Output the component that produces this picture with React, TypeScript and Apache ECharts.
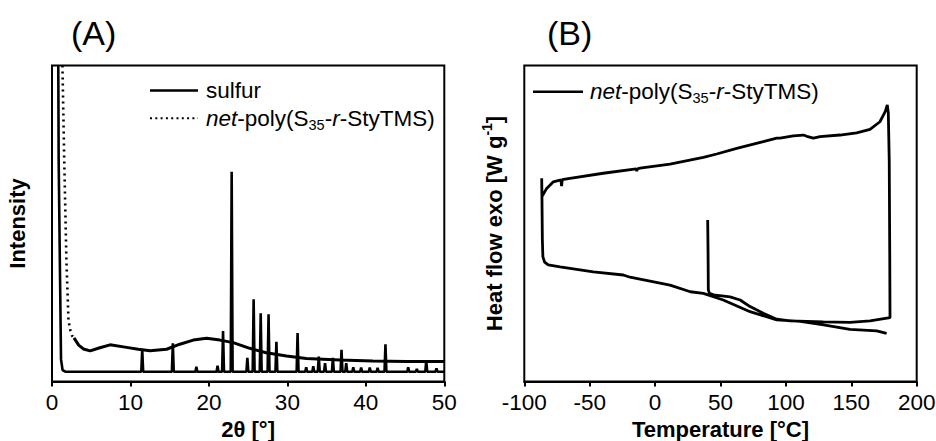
import React, { useEffect, useRef } from "react";
import * as echarts from "echarts";

const FONT = "Liberation Sans";

// ---------- Panel A: XRD ----------
const xrdMin = 0;
const xrdMax = 50;
const xrdInterval = 10;

// steep low-angle drop of the sulfur pattern
const sulfurDropX = [0.8, 0.85, 1.0, 1.15, 1.35, 1.7];
const sulfurDropY = [100, 70, 38, 7, 3.6, 3.1];
const sulfurBaseline = 3.1;
const sulfurPeakPos = [11.5, 15.4, 18.4, 21.1, 21.8, 22.9, 24.9, 25.7, 26.6, 27.6, 28.6, 31.3, 32.4, 33.3, 34.0, 34.8, 35.8, 36.9, 37.5, 38.4, 39.4, 40.5, 41.5, 42.5, 45.4, 46.5, 47.7, 49.0];
const sulfurPeakHeight = [10.2, 12.1, 4.7, 5.0, 16.0, 66.4, 7.5, 26.0, 21.6, 21.3, 12.6, 15.3, 4.5, 4.8, 7.9, 5.8, 7.5, 10.0, 5.8, 4.5, 4.4, 4.4, 4.3, 11.8, 4.5, 4.0, 6.6, 4.2];

// net-poly(S35-r-StyTMS): steep (dotted-looking) part and broad amorphous halo
const polySteepX = [1.33, 1.56, 1.84, 2.1, 2.3, 2.55, 2.8];
const polySteepY = [100, 70, 38, 19.5, 16.5, 14.5, 13.8];
const polyHaloX = [2.8, 3.4, 4.0, 4.87, 6.0, 7.4, 9.5, 11.0, 12.5, 14.6, 16.3, 18.0, 19.7, 21.4, 23.1, 25.2, 27.3, 29.9, 32.4, 36.7, 40.9, 45.2, 50];
const polyHaloY = [13.8, 11.5, 10.3, 9.7, 10.6, 11.6, 10.8, 10.2, 9.7, 10.2, 11.8, 13.1, 13.7, 13.1, 12.3, 10.5, 9.1, 8.1, 7.3, 6.8, 6.5, 6.3, 6.3];

// ---------- Panel B: DSC ----------
const dscMin = -100;
const dscMax = 200;
const dscInterval = 50;
const dscT = [
  40.2, 40.5, 40.7, 41.5, 44.7, 57.3, 65, 72.6, 82.7, 93, 103.1, 128.6, 149, 164.3, 179.6,
  179.4, 179, 178.3, 177.5,
  176, 171.9, 164.3, 154.1, 141.4, 126.1, 121, 116, 113.3, 105.7, 95.5, 93, 82.7, 62.4, 47.1, 36.9, 11.4, -11.5, -13.5, -14, -14.5, -39.6, -65.1, -71, -71.5, -72, -77.8, -82.9, -86.5,
  -86.7, -86.5, -86.2, -85.8, -84.5, -81.7, -72.7, -47.2, -24.3, -19.2, 11.4, 26.9, 36.9, 52.1, 72.6, 93, 111, 128.8, 149, 169.4, 177
];
const dscV = [
  51.1, 40, 29, 27.9, 27.4, 26.8, 25.8, 23.7, 21.6, 19.7, 19.2, 18.9, 18.7, 19.2, 20.2,
  40, 70, 85, 87.5,
  85.5, 82.2, 79.8, 78.7, 78, 77.5, 77, 77.6, 78, 77.7, 77, 77, 75.9, 73.8, 72, 70.9, 68.8, 67.5, 67.3, 66.6, 67.3, 65.9, 64.3, 63.9, 61.8, 63.8, 63.2, 61.1, 58.5,
  64.3, 58, 45, 39.5, 37.8, 36.9, 36.3, 34.7, 33.7, 33, 30.5, 28.4, 27.9, 25.8, 22.1, 19.5, 19, 17.9, 16.5, 16, 15.2
];

const pair = (xs: number[], ys: number[]) => xs.map((x, i) => [x, ys[i]]);

export default function App() {
  const ref = useRef<HTMLDivElement>(null);
  useEffect(() => {
    const chart = echarts.init(ref.current!, null, { renderer: "svg" });

    const sulfurData: number[][] = pair(sulfurDropX, sulfurDropY);
    sulfurPeakPos.forEach((p, i) => {
      sulfurData.push([p - 0.12, sulfurBaseline], [p, sulfurPeakHeight[i]], [p + 0.12, sulfurBaseline]);
    });
    sulfurData.push([xrdMax, sulfurBaseline]);

    const axisCommon = {
      type: "value" as const,
      axisLine: { show: true, lineStyle: { color: "#000", width: 2 } },
      axisTick: { show: true, inside: false, length: 5, lineStyle: { color: "#000", width: 2 } },
      axisLabel: { fontSize: 22.5, color: "#000", fontFamily: FONT, margin: 9 },
      splitLine: { show: false },
      nameLocation: "middle" as const,
      nameGap: 36,
      nameTextStyle: { fontSize: 22, fontWeight: "bold" as const, color: "#000", fontFamily: FONT },
    };
    const yCommon = {
      type: "value" as const,
      min: 0,
      max: 100,
      axisLine: { show: false },
      axisTick: { show: false },
      axisLabel: { show: false },
      splitLine: { show: false },
      nameLocation: "middle" as const,
      nameTextStyle: {
        fontSize: 22,
        fontWeight: "bold" as const,
        color: "#000",
        fontFamily: FONT,
        lineHeight: 28,
        rich: {
          b: { fontSize: 22, fontWeight: "bold" as const, fontFamily: FONT, color: "#000", lineHeight: 28 },
          sup: { fontSize: 14, fontWeight: "bold" as const, verticalAlign: "top" as const, lineHeight: 14, fontFamily: FONT, color: "#000" },
        },
      },
    };
    const lineBase = { type: "line" as const, showSymbol: false, symbol: "none", clip: true, smooth: false };

    const legendRich = {
      i: { fontStyle: "italic" as const, fontSize: 22.5, fontFamily: FONT, fill: "#000", lineHeight: 28 },
      n: { fontSize: 22.5, fontFamily: FONT, fill: "#000", lineHeight: 28 },
      sub: { fontSize: 14.5, fontFamily: FONT, fill: "#000", verticalAlign: "bottom" as const, lineHeight: 15 },
    };
    const polyLabel = "{i|net}{n|-poly(S}{sub|35}{n|-}{i|r}{n|-StyTMS)}";

    const gridBase = { top: 65.5, bottom: 59.5, show: true, borderColor: "#000", borderWidth: 2, backgroundColor: "transparent", containLabel: false, outerBoundsMode: "none" };

    chart.setOption({
      animation: false,
      backgroundColor: "#fff",
      grid: [
        { ...gridBase, left: 52, right: 491.7 },
        { ...gridBase, left: 524.3, right: 19.3 },
      ],
      xAxis: [
        { ...axisCommon, gridIndex: 0, min: xrdMin, max: xrdMax, interval: xrdInterval, name: "2θ [°]" },
        { ...axisCommon, gridIndex: 1, min: dscMin, max: dscMax, interval: dscInterval, name: "Temperature [°C]" },
      ],
      yAxis: [
        { ...yCommon, gridIndex: 0, name: "{b|Intensity}", nameGap: 21 },
        { ...yCommon, gridIndex: 1, name: "{b|Heat flow exo [W g}{sup|-1}{b|]}", nameGap: 16 },
      ],
      series: [
        { ...lineBase, name: "sulfur", xAxisIndex: 0, yAxisIndex: 0, data: sulfurData, lineStyle: { color: "#000", width: 2.6 } },
        { ...lineBase, name: "net-poly(S35-r-StyTMS)", xAxisIndex: 0, yAxisIndex: 0, data: pair(polySteepX, polySteepY), lineStyle: { color: "#000", width: 2.6, type: [2, 4] } },
        { ...lineBase, name: "net-poly halo", xAxisIndex: 0, yAxisIndex: 0, data: pair(polyHaloX, polyHaloY), lineStyle: { color: "#000", width: 3 } },
        { ...lineBase, name: "DSC net-poly(S35-r-StyTMS)", xAxisIndex: 1, yAxisIndex: 1, data: pair(dscT, dscV), lineStyle: { color: "#000", width: 2.8 } },
      ],
      graphic: [
        { type: "text", left: 71, top: 16, style: { text: "(A)", fontSize: 34, fontFamily: FONT, fill: "#000" } },
        { type: "text", left: 547, top: 16, style: { text: "(B)", fontSize: 34, fontFamily: FONT, fill: "#000" } },
        // legend A
        { type: "line", shape: { x1: 150, y1: 90.5, x2: 198, y2: 90.5 }, style: { stroke: "#000", lineWidth: 2.6 } },
        { type: "text", x: 206, y: 90, style: { text: "sulfur", fontSize: 22.5, fontFamily: FONT, fill: "#000", verticalAlign: "middle" } },
        { type: "line", shape: { x1: 150, y1: 118.3, x2: 198, y2: 118.3 }, style: { stroke: "#000", lineWidth: 2, lineDash: [2, 3.3] } },
        { type: "text", x: 206, y: 118, style: { text: polyLabel, rich: legendRich, verticalAlign: "middle" } },
        // legend B
        { type: "line", shape: { x1: 533, y1: 91.7, x2: 583, y2: 91.7 }, style: { stroke: "#000", lineWidth: 2.6 } },
        { type: "text", x: 590, y: 91, style: { text: polyLabel, rich: legendRich, verticalAlign: "middle" } },
      ],
    });
    return () => chart.dispose();
  }, []);
  return <div ref={ref} style={{ position: "fixed", left: 0, top: 0, width: 936, height: 441 }} />;
}
